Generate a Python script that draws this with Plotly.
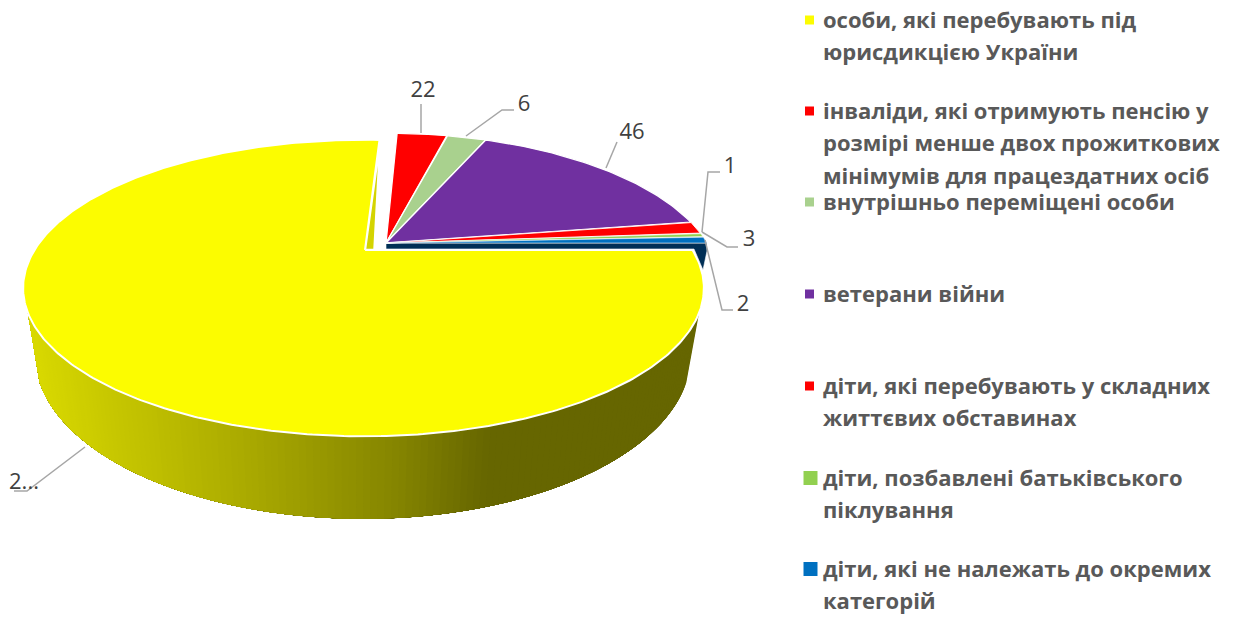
import numpy as np
import plotly.graph_objects as go

# ---- data ----
categories = [
    "особи, які перебувають під юрисдикцією України",
    "інваліди, які отримують пенсію у розмірі менше двох прожиткових мінімумів для працездатних осіб",
    "внутрішньо переміщені особи",
    "ветерани війни",
    "діти, які перебувають у складних життєвих обставинах",
    "діти, позбавлені батьківського піклування",
    "діти, які не належать до окремих категорій",
]
value_labels = ["2...", "22", "6", "46", "1", "3", "2"]
# angular sweep of each drawn slice (degrees)
sweep_deg = [273.5, 11.2, 8.9, 58.3, 4.9, 1.5, 2.7]
slice_colors = ["#FCFC00", "#FF0000", "#A9D18E", "#7030A0", "#FF0000", "#92D050", "#0070C0"]
legend_lines = [
    ["особи, які перебувають під", "юрисдикцією України"],
    ["інваліди, які отримують пенсію у", "розмірі менше двох прожиткових", "мінімумів для працездатних осіб"],
    ["внутрішньо переміщені особи"],
    ["ветерани війни"],
    ["діти, які перебувають у складних", "життєвих обставинах"],
    ["діти, позбавлені батьківського", "піклування"],
    ["діти, які не належать до окремих", "категорій"],
]

# ---- layout / projection constants ----
W, H = 1236, 617
K = 0.2566                 # perspective
MAIN = dict(cx=363.5, cy=250.0, R=329.0, h=138.5)
BASE = dict(cx=363.0, cy=313.0, R=317.0, h=153.0)
GROUP = dict(cx=386.0, cy=243.0, R=321.0, h=138.0)
slice_outline = [2, 1.3, 1.3, 1.3, 0.9, 0.5, 0.5]
legend_y = [[20, 52], [111, 143, 176], [202], [294], [386, 418], [478, 510], [569, 601]]
legend_text_dy = 2
legend_sq_x = [809.5, 809.5, 809.5, 809.5, 809.5, 810.5, 810.5]
legend_sq_size = [9, 9, 9, 9, 9, 14, 14]
label_pos = [(24, 483), (423, 91), (524, 105), (632, 133), (730, 167), (749, 240), (743, 305)]
leaders = [
    [(85, 447), (27, 491), (14, 491)],
    [(421, 133), (421, 104)],
    [(466, 136), (502, 110), (514, 110)],
    [(606, 168), (617, 142)],
    [(702, 232), (708, 172), (720, 172)],
    [(702, 232), (727, 247), (738, 247)],
    [(705, 240), (722, 310), (733, 310)],
]
wall_stops_x = [40, 240, 400, 490, 700]
wall_stops_c = [(216, 216, 0), (172, 172, 0), (133, 133, 0), (102, 102, 0), (102, 102, 0)]


def proj(theta_deg, cx, cy, R, h):
    t = np.radians(np.asarray(theta_deg, dtype=float))
    u, v = np.sin(t), np.cos(t)
    d = 1 + K * v
    return cx + R * u / d, cy - h * v / d


fig = go.Figure()


def poly(x, y, fill, line=None, lw=1.0):
    fig.add_trace(go.Scatter(
        x=list(x), y=list(y), mode="lines", fill="toself", fillcolor=fill,
        line=dict(color=line or fill, width=lw), hoverinfo="skip", showlegend=False))


# side wall of the big slice: painted right to left, each band covering all that remains
A_R, A_L = 114, 246
for a0 in np.linspace(A_R, A_L, 141)[:-1]:
    seg = np.linspace(a0, A_L, 50)
    tx, ty = proj(seg, **MAIN)
    bx, by = proj(seg[::-1], **BASE)
    mid = (tx[0] + bx[-1]) / 2
    c = [int(round(np.interp(mid, wall_stops_x, [s[i] for s in wall_stops_c]))) for i in range(3)]
    poly(np.r_[tx, bx, tx[0]], np.r_[ty, by, ty[0]], f"rgb({c[0]},{c[1]},{c[2]})", lw=0)

# big slice top, clockwise from the 3 o'clock position
ang = np.linspace(90, 90 + sweep_deg[0], 400)
rx, ry = proj(ang, **MAIN)
apex_x, apex_y = MAIN["cx"] + 1.5, MAIN["cy"]
poly(np.r_[apex_x, rx, apex_x], np.r_[apex_y, ry, apex_y], slice_colors[0], "#FFFFFF", slice_outline[0])

# cut face of the big slice
ex, ey = proj(90 + sweep_deg[0], **MAIN)
poly([apex_x + 0.5, ex, apex_x + 9, apex_x + 0.5],
     [apex_y - 0.5, ey + 8, apex_y - 0.5, apex_y - 0.5], "#D4D400", "#FFFFFF", 1.5)

# cut face and short wall of the last small slice (drawn under its top)
tipx, tipy = proj(90, **GROUP)
gc, gy = GROUP["cx"], GROUP["cy"]
poly([gc, tipx, tipx, tipx - 4, tipx - 13, gc, gc],
     [gy, tipy, tipy + 8, tipy + 27, tipy + 6, gy + 6, gy], "#002F56", "#FFFFFF", 0.6)

# exploded small slices, ending at the 3 o'clock position
start = 90 - sum(sweep_deg[1:])
for sweep, col, lw in zip(sweep_deg[1:], slice_colors[1:], slice_outline[1:]):
    ang = np.linspace(start, start + sweep, 60)
    rx, ry = proj(ang, **GROUP)
    poly(np.r_[gc, rx, gc], np.r_[gy, ry, gy], col, "#FFFFFF", lw)
    start += sweep

# leader lines
for path in leaders:
    fig.add_trace(go.Scatter(x=[p[0] for p in path], y=[p[1] for p in path], mode="lines",
                             line=dict(color="#A6A6A6", width=1.5), hoverinfo="skip", showlegend=False))

# data labels
fig.add_trace(go.Scatter(
    x=[p[0] for p in label_pos], y=[p[1] for p in label_pos], mode="text", text=value_labels,
    textposition="middle center", textfont=dict(family="Open Sans", size=22, color="#404040"),
    hoverinfo="skip", showlegend=False))

# legend
for i, (lines, ys) in enumerate(zip(legend_lines, legend_y)):
    fig.add_trace(go.Scatter(
        x=[legend_sq_x[i]], y=[ys[0]], mode="markers",
        marker=dict(symbol="square", size=legend_sq_size[i], color=slice_colors[i], line=dict(width=0)),
        name=categories[i], hoverinfo="name", showlegend=False))
    fig.add_trace(go.Scatter(
        x=[823] * len(lines), y=[y + legend_text_dy for y in ys], mode="text", text=lines,
        textposition="middle right",
        textfont=dict(family="Open Sans", size=22, color="#595959", weight=700),
        hoverinfo="skip", showlegend=False))

fig.update_layout(
    width=W, height=H, margin=dict(l=0, r=0, t=0, b=0),
    paper_bgcolor="white", plot_bgcolor="white", showlegend=False,
    xaxis=dict(range=[0, W], visible=False, fixedrange=True),
    yaxis=dict(range=[H, 0], visible=False, fixedrange=True),
)
fig.write_html("out.html", config={"displayModeBar": False},
               post_script="document.body.style.margin='0';document.documentElement.style.overflow='hidden';")
